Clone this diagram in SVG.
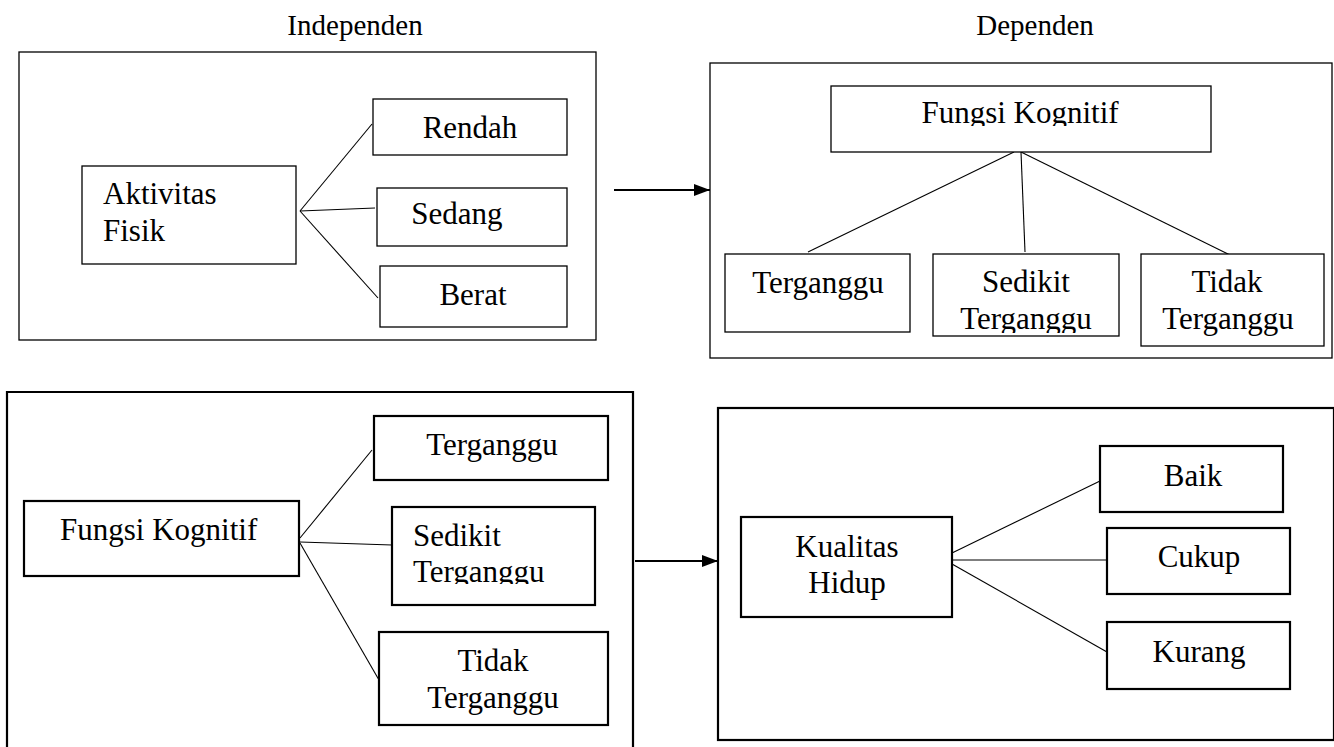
<svg xmlns="http://www.w3.org/2000/svg" width="1334" height="747" viewBox="0 0 1334 747">
<style>
  .frame { fill: #fff; stroke: #000; stroke-width: 1.3; }
  .box { fill: #fff; stroke: #000; stroke-width: 1.3; }
  .frame2 { fill: #fff; stroke: #000; stroke-width: 2.2; }
  .box2 { fill: #fff; stroke: #000; stroke-width: 2.2; }
  .ln { stroke: #000; stroke-width: 1.1; fill: none; }
  .arr { stroke: #000; stroke-width: 2; fill: none; }
  text { font-family: "Liberation Serif", "Times New Roman", serif; font-size: 31px; fill: #000; }
  .hd { font-size: 29px; }
  .c { text-anchor: middle; }
</style>
<defs>
  <marker id="ah" markerWidth="16" markerHeight="12" refX="16" refY="6" orient="auto" markerUnits="userSpaceOnUse" viewBox="0 0 16 12">
    <path d="M0,0 L16,6 L0,12 Z" fill="#000"/>
  </marker>
  <clipPath id="clipFK"><rect x="831" y="86" width="380" height="40"/></clipPath>
  <clipPath id="clipST1"><rect x="933" y="254" width="186" height="79"/></clipPath>
  <clipPath id="clipST2"><rect x="392" y="507" width="203" height="77"/></clipPath>
</defs>
<rect width="1334" height="747" fill="#fff"/>

<g id="headers">
  <text class="hd c" x="355" y="35">Independen</text>
  <text class="hd c" x="1035" y="35">Dependen</text>
</g>

<g id="frame-independen"><rect class="frame" x="19" y="52" width="577" height="288"/></g>
<g id="frame-dependen"><rect class="frame" x="710" y="63" width="622" height="295"/></g>
<g id="frame-fk"><path class="frame2" d="M7,750 L7,392 L633,392 L633,750"/></g>
<g id="frame-qol"><rect class="frame2" x="718" y="408" width="616" height="332"/></g>

<g id="connectors">
  <line class="ln" x1="300" y1="211" x2="372" y2="124"/>
  <line class="ln" x1="300" y1="211" x2="375" y2="208"/>
  <line class="ln" x1="300" y1="211" x2="378" y2="298"/>
  <line class="ln" x1="1014" y1="152" x2="808" y2="252"/>
  <line class="ln" x1="1021" y1="152" x2="1025" y2="252"/>
  <line class="ln" x1="1021" y1="152" x2="1230" y2="255"/>
  <line class="ln" x1="300" y1="538" x2="372" y2="450"/>
  <line class="ln" x1="300" y1="542" x2="392" y2="545"/>
  <line class="ln" x1="300" y1="543" x2="379" y2="680"/>
  <line class="ln" x1="952" y1="553" x2="1100" y2="481"/>
  <line class="ln" x1="952" y1="560" x2="1107" y2="560"/>
  <line class="ln" x1="952" y1="564" x2="1107" y2="652"/>
  <line class="arr" x1="614" y1="190" x2="710" y2="190" marker-end="url(#ah)"/>
  <line class="arr" x1="635" y1="561" x2="718" y2="561" marker-end="url(#ah)"/>
</g>

<g id="n-aktivitas">
  <rect class="box" x="82" y="166" width="214" height="98"/>
  <text x="103" y="204">Aktivitas</text>
  <text x="103" y="241">Fisik</text>
</g>
<g id="n-rendah"><rect class="box" x="373" y="99" width="194" height="56"/><text class="c" x="470" y="138">Rendah</text></g>
<g id="n-sedang"><rect class="box" x="377" y="188" width="190" height="58"/><text class="c" x="457" y="224">Sedang</text></g>
<g id="n-berat"><rect class="box" x="380" y="266" width="187" height="61"/><text class="c" x="473" y="305">Berat</text></g>

<g id="n-fk-top"><rect class="box" x="831" y="86" width="380" height="66"/><text class="c" x="1020" y="123" clip-path="url(#clipFK)">Fungsi Kognitif</text></g>
<g id="n-terganggu-top"><rect class="box" x="725" y="254" width="185" height="78"/><text class="c" x="818" y="293">Terganggu</text></g>
<g id="n-sedikit-top"><rect class="box" x="933" y="254" width="186" height="82"/>
  <text class="c" x="1026" y="292">Sedikit</text>
  <text class="c" x="1026" y="329" clip-path="url(#clipST1)">Terganggu</text></g>
<g id="n-tidak-top"><rect class="box" x="1141" y="254" width="183" height="92"/>
  <text class="c" x="1227" y="292">Tidak</text>
  <text class="c" x="1228" y="329">Terganggu</text></g>

<g id="n-fk-bottom"><rect class="box2" x="24" y="501" width="275" height="75"/><text x="60" y="540">Fungsi Kognitif</text></g>
<g id="n-terganggu-bottom"><rect class="box2" x="374" y="416" width="234" height="64"/><text class="c" x="492" y="455">Terganggu</text></g>
<g id="n-sedikit-bottom"><rect class="box2" x="392" y="507" width="203" height="98"/>
  <text x="413" y="546">Sedikit</text>
  <text x="413" y="582" clip-path="url(#clipST2)">Terganggu</text></g>
<g id="n-tidak-bottom"><rect class="box2" x="379" y="632" width="229" height="93"/>
  <text class="c" x="493" y="671">Tidak</text>
  <text class="c" x="493" y="708">Terganggu</text></g>

<g id="n-kualitas"><rect class="box2" x="741" y="517" width="211" height="100"/>
  <text class="c" x="847" y="557">Kualitas</text>
  <text class="c" x="847" y="593">Hidup</text></g>
<g id="n-baik"><rect class="box2" x="1100" y="446" width="183" height="66"/><text class="c" x="1193" y="486">Baik</text></g>
<g id="n-cukup"><rect class="box2" x="1107" y="528" width="183" height="66"/><text class="c" x="1199" y="567">Cukup</text></g>
<g id="n-kurang"><rect class="box2" x="1107" y="622" width="183" height="67"/><text class="c" x="1199" y="662">Kurang</text></g>
</svg>
